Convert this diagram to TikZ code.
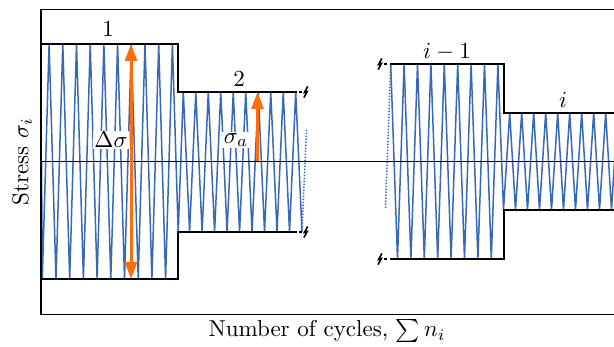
\documentclass[tikz,border=0pt]{standalone}
\usetikzlibrary{arrows.meta}
\definecolor{wave}{RGB}{55,105,180}
\definecolor{arrc}{RGB}{255,110,10}
\tikzset{
  wv/.style={draw=wave, line width=1.5pt, line join=miter},
  wvdot/.style={draw=wave, line width=1.5pt, dash pattern=on 1.5pt off 1.5pt},
  lvl/.style={draw=black, line width=2pt, line join=miter},
  frm/.style={draw=black, line width=1.4pt},
  mid/.style={draw=black, line width=1.1pt},
  oarr/.style={draw=arrc, line width=3pt},
  txt/.style={scale=2.3, inner sep=1pt},
  lab/.style={txt, fill=white, inner sep=0.7pt},
  brk/.pic={\draw[line width=1.6pt, line join=miter] (1.9,-5.6) -- (-1.3,0.4) -- (1.3,-0.4) -- (-1.9,5.6);}
}
\begin{document}
\begin{tikzpicture}[x=1pt,y=-1pt]
\useasboundingbox (0,0) rectangle (614,347);
\clip (0,0) rectangle (614,347);
% zigzag blocks 1 and 2
\draw[wv] (41.5,161.5)
  \foreach \k in {0,...,9} { -- ({42.3+13.7*\k},279) -- ({49.1+13.7*\k},44) }
  -- (178.2,232)
  \foreach \k in {0,...,9} { -- ({183.3+12.49*\k},92) -- ({189.6+12.49*\k},232) };
\draw[wvdot] (302.2,227) -- (306.5,129);
% zigzag blocks i-1 and i
\draw[wvdot] (385.5,208) -- (390.7,66);
\draw[wv] (390.7,64)
  \foreach \k in {0,...,7} { -- ({397.5+13.4*\k},259) -- ({404.1+13.4*\k},64) }
  -- (503.5,210)
  \foreach \k in {0,...,8} { -- ({509.7+12*\k},113) -- ({515.5+12*\k},210) }
  -- (617.5,113);
% mid line
\draw[mid] (41,161.5) -- (614,161.5);
% levels
\draw[lvl] (41,44) -- (178,44) -- (178,92) -- (297,92);
\draw[lvl] (41,279) -- (178,279) -- (178,232) -- (297,232);
\draw[lvl] (299.3,92) -- (302.3,92);
\draw[lvl] (299.3,232) -- (302.3,232);
\pic at (305.8,92) {brk};
\pic at (305.8,232) {brk};
\draw[lvl] (390,64) -- (504,64) -- (504,113) -- (616,113);
\draw[lvl] (390,259) -- (504,259) -- (504,210) -- (616,210);
\draw[lvl] (383.8,64) -- (386.8,64);
\draw[lvl] (383.8,259) -- (386.8,259);
\pic at (380,64) {brk};
\pic at (380,259) {brk};
% arrows
\draw[oarr, {Triangle[length=17pt,width=12pt]}-{Triangle[length=17pt,width=12pt]}] (131,44) -- (131,279);
\draw[oarr, -{Triangle[length=17pt,width=12pt]}] (257.5,161.5) -- (257.5,92);
% labels
\node[lab] (ds) at (111,140) {$\Delta\sigma$};
\node[lab] (sa) at (236,140) {$\sigma_a$};
\node[txt, anchor=base] (l1) at (108,37) {1};
\node[txt, anchor=base] (l2) at (239,87) {2};
\node[txt, anchor=base] (lim) at (447,59) {$i-1$};
\node[txt, anchor=base] (li) at (563,108) {$i$};
% frame
\draw[frm] (616,9.5) -- (41,9.5) -- (41,314.5) -- (616,314.5);
\node[txt, rotate=90] (yl) at (22,161.5) {Stress $\sigma_i$};
\node[txt] (xl) at (327,331) {Number of cycles, $\sum n_i$};
\end{tikzpicture}
\end{document}
